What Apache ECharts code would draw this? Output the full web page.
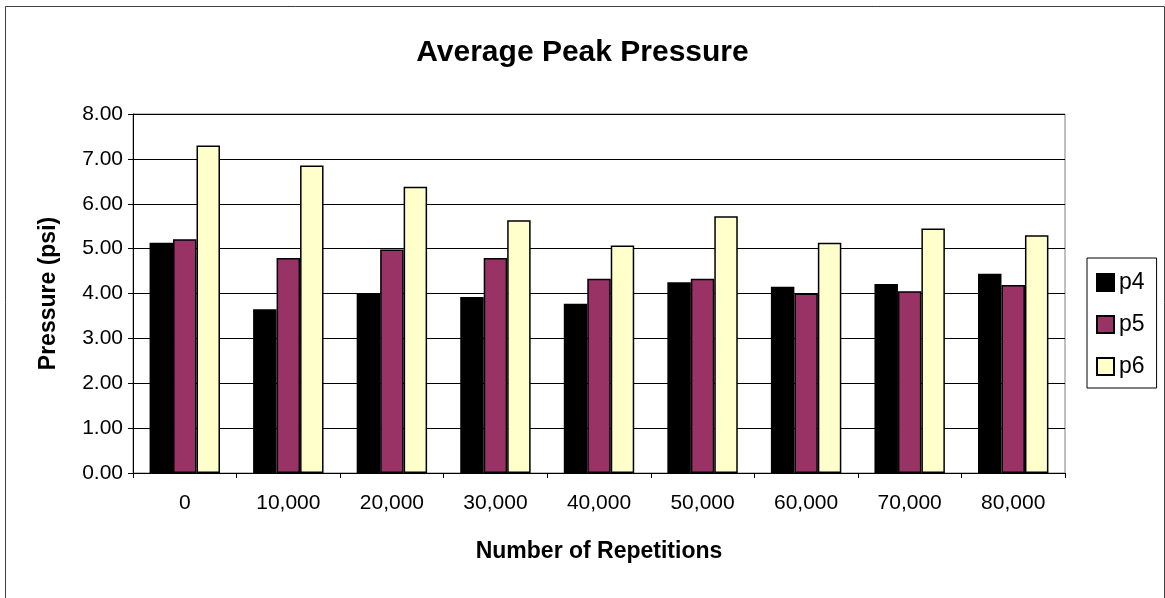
<!DOCTYPE html>
<html>
<head>
<meta charset="utf-8">
<script src="https://cdn.jsdelivr.net/npm/echarts@6/dist/echarts.min.js"></script>
<style>
  html, body { margin: 0; padding: 0; background: #fff; }
  #chart { width: 1165px; height: 598px; }
</style>
</head>
<body>
<div id="chart"></div>
<script>
// Repetition counts along the horizontal axis
const categories = ['0', '10,000', '20,000', '30,000', '40,000', '50,000', '60,000', '70,000', '80,000'];
// Average peak pressure (psi) at each sensor
const p4 = [5.13, 3.65, 4.01, 3.92, 3.77, 4.25, 4.15, 4.21, 4.44];
const p5 = [5.21, 4.79, 4.98, 4.79, 4.33, 4.33, 4.00, 4.05, 4.19];
const p6 = [7.30, 6.85, 6.38, 5.63, 5.07, 5.72, 5.13, 5.45, 5.30];
const seriesNames = ['p4', 'p5', 'p6'];
const seriesColors = ['#000000', '#993366', '#FFFFCC'];

const font = 'Liberation Sans, Arial, sans-serif';
const chart = echarts.init(document.getElementById('chart'), null, { renderer: 'canvas' });

function barSeries(name, data, color) {
  return {
    name: name,
    type: 'bar',
    data: data,
    barGap: '0%',
    barCategoryGap: '32%',
    itemStyle: { color: color, borderColor: '#000', borderWidth: 1.5 },
    emphasis: { disabled: true }
  };
}

chart.setOption({
  animation: false,
  backgroundColor: '#fff',
  textStyle: { fontFamily: font },
  title: {
    text: 'Average Peak Pressure',
    left: 'center',
    top: 33,
    textStyle: { fontFamily: font, fontSize: 30, fontWeight: 'bold', color: '#000' }
  },
  legend: {
    orient: 'vertical',
    left: 1087,
    top: 258,
    itemWidth: 17,
    itemHeight: 17,
    itemGap: 19,
    padding: [13, 12, 10, 9],
    borderColor: '#000',
    borderWidth: 1,
    icon: 'rect',
    textStyle: { fontFamily: font, fontSize: 23, color: '#000', lineHeight: 22, padding: [0, 0, 0, 0] },
    data: seriesNames
  },
  grid: {
    left: 133, right: 100, top: 114, bottom: 125,
    show: true, borderColor: '#808080', borderWidth: 1, backgroundColor: '#fff'
  },
  xAxis: {
    type: 'category',
    data: categories,
    name: 'Number of Repetitions',
    nameLocation: 'middle',
    nameGap: 67,
    nameTextStyle: { fontFamily: font, fontSize: 23, fontWeight: 'bold', color: '#000' },
    axisLine: { show: true, lineStyle: { color: '#000', width: 1 } },
    axisTick: { show: true, inside: false, length: 5, lineStyle: { color: '#000' } },
    axisLabel: { fontFamily: font, fontSize: 21, color: '#000', margin: 20 },
    splitLine: { show: false }
  },
  yAxis: {
    type: 'value',
    min: 0,
    max: 8,
    interval: 1,
    name: 'Pressure (psi)',
    nameLocation: 'middle',
    nameGap: 73,
    nameTextStyle: { fontFamily: font, fontSize: 23, fontWeight: 'bold', color: '#000' },
    axisLine: { show: true, lineStyle: { color: '#000', width: 1 } },
    axisTick: { show: true, inside: false, length: 5, lineStyle: { color: '#000' } },
    axisLabel: { fontFamily: font, fontSize: 21, color: '#000', margin: 10, formatter: v => v.toFixed(2) },
    splitLine: { show: true, lineStyle: { color: '#000', width: 1 } }
  },
  series: [
    barSeries(seriesNames[0], p4, seriesColors[0]),
    barSeries(seriesNames[1], p5, seriesColors[1]),
    barSeries(seriesNames[2], p6, seriesColors[2])
  ],
  graphic: [{
    type: 'rect',
    silent: true,
    z: 100,
    shape: { x: 5.5, y: 6.5, width: 1159, height: 600 },
    style: { fill: 'none', stroke: '#404040', lineWidth: 1 }
  }]
});
</script>
</body>
</html>
